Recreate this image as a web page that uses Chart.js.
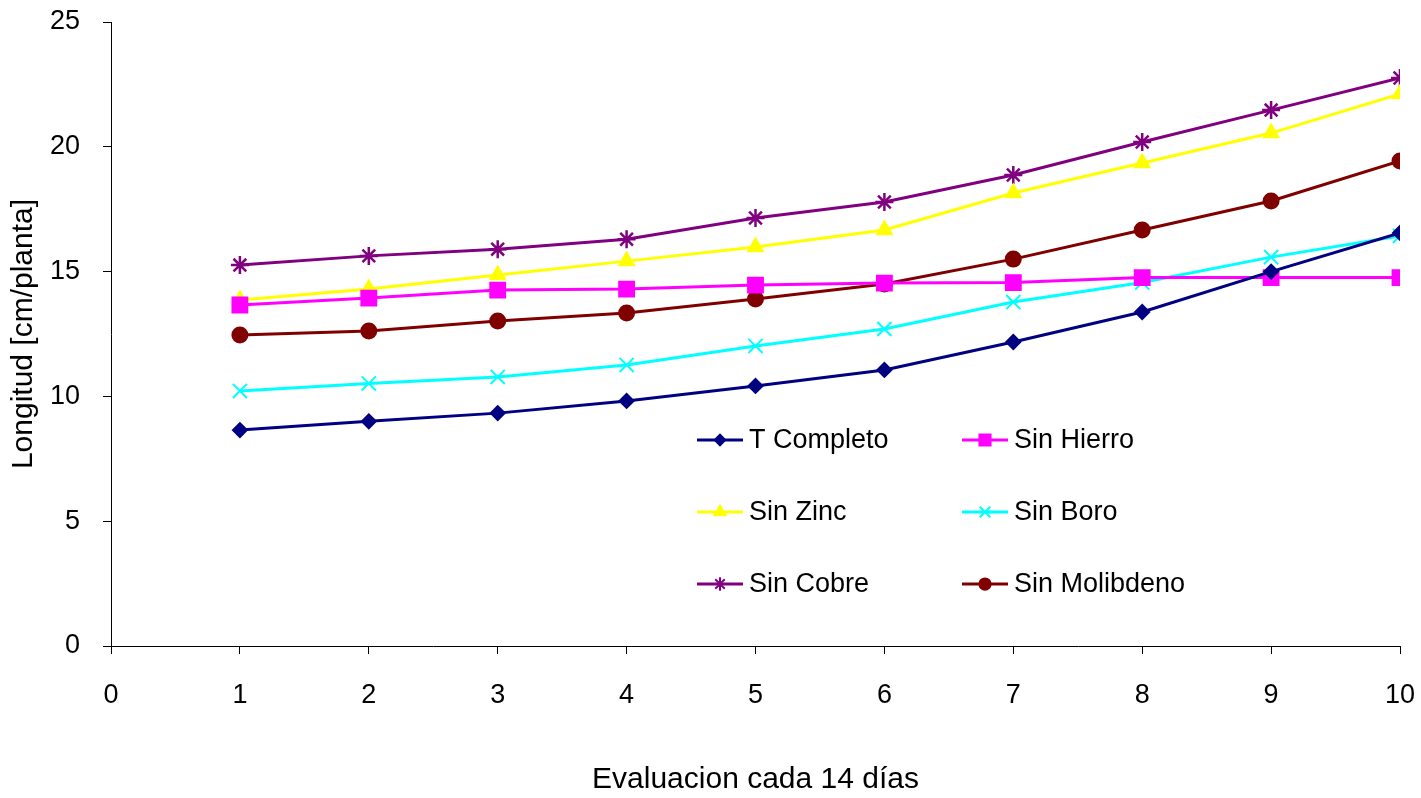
<!DOCTYPE html>
<html>
<head>
<meta charset="utf-8">
<script src="https://cdn.jsdelivr.net/npm/chart.js@4/dist/chart.umd.min.js"></script>
<style>
    html, body { margin: 0; padding: 0; background: #fff; }
    #wrap { width: 1421px; height: 798px; }
</style>
</head>
<body>
<div id="wrap"><canvas id="chart" width="1421" height="798"></canvas></div>
<script>
// ==========================
// Data
// ==========================
const evaluaciones = [1, 2, 3, 4, 5, 6, 7, 8, 9, 10];
const seriesNames = ['T Completo', 'Sin Hierro', 'Sin Zinc', 'Sin Boro', 'Sin Cobre', 'Sin Molibdeno'];

const tCompleto    = [8.65, 9.0, 9.33, 9.82, 10.42, 11.06, 12.18, 13.38, 15.0, 16.55];
const sinHierro    = [13.66, 13.94, 14.26, 14.3, 14.46, 14.54, 14.56, 14.76, 14.76, 14.76];
const sinZinc      = [13.86, 14.3, 14.86, 15.42, 15.99, 16.67, 18.15, 19.35, 20.55, 22.12];
const sinBoro      = [10.22, 10.52, 10.78, 11.26, 12.02, 12.7, 13.78, 14.56, 15.58, 16.43];
const sinCobre     = [15.26, 15.63, 15.9, 16.3, 17.15, 17.79, 18.87, 20.19, 21.47, 22.76];
const sinMolibdeno = [12.46, 12.62, 13.02, 13.34, 13.9, 14.5, 15.5, 16.67, 17.83, 19.43];

const allValues = [tCompleto, sinHierro, sinZinc, sinBoro, sinCobre, sinMolibdeno];
const colors = ['#000080', '#FF00FF', '#FFFF00', '#00FFFF', '#800080', '#800000'];
const pointStyles = ['rectRot', 'rect', 'triangle', 'crossRot', 'star', 'circle'];
const pointSizes = [7, 10.5, 8.5, 10, 9, 7.5];

const FONT = "'Liberation Sans', Arial, sans-serif";

// ==========================
// Legend inside plot area
// ==========================
const insideLegend = {
    id: 'insideLegend',
    afterDraw(chart) {
        const ctx = chart.ctx;
        const cols = [697, 962];
        const rows = [440, 512, 584];
        ctx.save();
        ctx.font = '27px ' + FONT;
        ctx.textBaseline = 'middle';
        chart.data.datasets.forEach((ds, i) => {
            const x = cols[i % 2];
            const y = rows[Math.floor(i / 2)];
            ctx.strokeStyle = ds.borderColor;
            ctx.lineWidth = 3;
            ctx.beginPath();
            ctx.moveTo(x, y);
            ctx.lineTo(x + 46, y);
            ctx.stroke();
            ctx.fillStyle = ds.borderColor;
            ctx.lineWidth = 2;
            Chart.helpers.drawPoint(ctx, {
                pointStyle: ds.pointStyle,
                radius: ds.pointRadius * 0.75,
                rotation: 0,
                borderWidth: 2
            }, x + 23, y);
            ctx.fillStyle = '#000';
            ctx.fillText(ds.label, x + 52, y + 1);
        });
        ctx.restore();
    }
};

// ==========================
// Chart
// ==========================
function initChart() {
    const datasets = seriesNames.map((name, i) => ({
        label: name,
        data: evaluaciones.map((x, j) => ({ x: x, y: allValues[i][j] })),
        borderColor: colors[i],
        backgroundColor: colors[i],
        pointBackgroundColor: colors[i],
        pointBorderColor: colors[i],
        borderWidth: 3,
        pointBorderWidth: pointStyles[i] === 'star' ? 2.5 : 2,
        pointStyle: pointStyles[i],
        pointRadius: pointSizes[i],
        tension: 0
    }));

    new Chart(document.getElementById('chart').getContext('2d'), {
        type: 'line',
        data: { datasets },
        plugins: [insideLegend],
        options: {
            responsive: false,
            animation: false,
            layout: { padding: { left: 0, top: 22, right: 21, bottom: 0 } },
            plugins: { legend: { display: false }, tooltip: { enabled: false } },
            scales: {
                x: {
                    type: 'linear', min: 0, max: 10,
                    ticks: { stepSize: 1, color: '#000', font: { family: FONT, size: 27 }, padding: 25, maxRotation: 0 },
                    grid: { drawOnChartArea: false, drawTicks: true, tickLength: 8, color: '#000' },
                    border: { color: '#000', width: 1 },
                    title: { display: true, text: 'Evaluacion cada 14 días', color: '#000', font: { family: FONT, size: 30 }, padding: { top: 0, bottom: 0 } },
                    afterFit(scale) {
                        scale.height = 152;
                        scale.paddingLeft = 0;
                        scale.paddingRight = 0;
                    }
                },
                y: {
                    min: 0, max: 25,
                    ticks: { stepSize: 5, color: '#000', font: { family: FONT, size: 27 }, padding: 23 },
                    grid: { drawOnChartArea: false, drawTicks: true, tickLength: 8, color: '#000' },
                    border: { color: '#000', width: 1 },
                    title: { display: true, text: 'Longitud [cm/planta]', color: '#000', font: { family: FONT, size: 30 }, padding: { top: 6, bottom: 0 } },
                    afterFit(scale) {
                        scale.width = 111;
                        scale.paddingTop = 0;
                        scale.paddingBottom = 0;
                    }
                }
            }
        }
    });
}

window.addEventListener('DOMContentLoaded', initChart);
</script>
</body>
</html>
